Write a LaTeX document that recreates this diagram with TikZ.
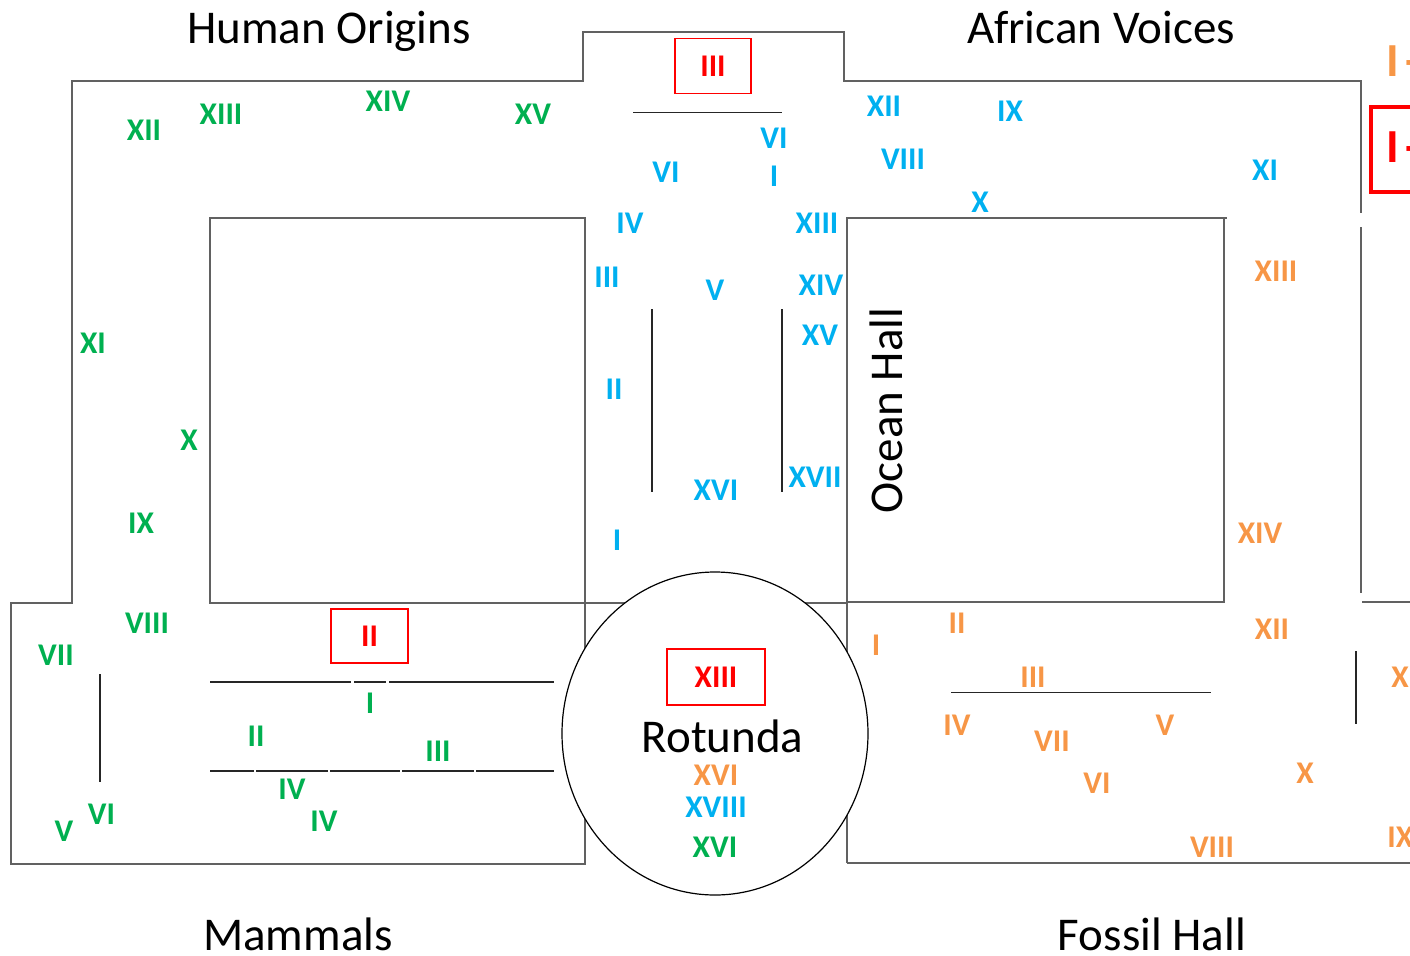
\documentclass[tikz,border=0pt]{standalone}
\usepackage{fontspec}
\setmainfont{Carlito}
\usetikzlibrary{shapes.geometric}
\definecolor{grn}{HTML}{00B050}
\definecolor{blu}{HTML}{00B0F0}
\definecolor{org}{HTML}{F79646}
\definecolor{rd}{HTML}{FF0000}
\begin{document}
\begin{tikzpicture}[x=0.5pt,y=-0.5pt,
  wall/.style={draw=black!62, line width=0.95pt},
  inwall/.style={draw=black!85, line width=0.75pt},
  lab/.style={inner sep=0pt, font=\fontsize{15.8}{18}\selectfont\bfseries},
  biglab/.style={inner sep=0pt, font=\fontsize{23.7}{28}\selectfont\bfseries},
  g/.style={lab,text=grn}, b/.style={lab,text=blu}, o/.style={lab,text=org}, r/.style={lab,text=rd},
  title/.style={inner sep=0pt, anchor=base, font=\fontsize{23.5}{28}\selectfont},
  rbox/.style={r, draw=rd, line width=0.75pt}]
\useasboundingbox (0,0) rectangle (1410,955);
\clip (0,0) rectangle (1410,955);
% walls
\draw[wall] (72,219) -- (72,81) -- (583,81) -- (583,32) -- (844,32) -- (844,81) -- (1361,81) -- (1361,213);
\draw[wall] (1361,227) -- (1361,593);
\draw[wall] (1362,602) -- (1415,602);
\draw[wall] (72,219) -- (72,603) -- (11,603) -- (11,864) -- (585,864) -- (585,218) -- (210,218) -- (210,603) -- (848,603);
\draw[wall] (847,863) -- (847,218) -- (1227,218);
\draw[wall] (1224,218) -- (1224,602) -- (847,602);
\draw[wall] (847,863) -- (1415,863);
% interior partitions
\draw[inwall] (633,112.5) -- (782,112.5);
\draw[inwall] (652,309) -- (652,492);
\draw[inwall] (782,309) -- (782,492);
\draw[inwall] (210,682) -- (351,682);
\draw[inwall] (354,682) -- (386,682);
\draw[inwall] (389,682) -- (554,682);
\draw[inwall] (210,771) -- (254,771);
\draw[inwall] (256,771) -- (328,771);
\draw[inwall] (330,771) -- (400,771);
\draw[inwall] (402,771) -- (474,771);
\draw[inwall] (476,771) -- (554,771);
\draw[inwall] (100,674) -- (100,782);
\draw[inwall] (951,692.5) -- (1211,692.5);
\draw[inwall] (1356,651) -- (1356,724);
% rotunda
\node[draw=black, fill=white, line width=0.6pt, ellipse, minimum width=153pt, minimum height=161.5pt, inner sep=0pt] (rotunda) at (715,733.5) {};
% titles
\node[title] (thuman) at (329,43) {Human Origins};
\node[title] (tafrica) at (1101,43) {African Voices};
\node[title] (tmam) at (298,950) {Mammals};
\node[title] (tfossil) at (1152,950) {Fossil Hall};
\node[title] (trot) at (722.5,752) {Rotunda};
\node[title, rotate=90] (tocean) at (902,410.5) {Ocean Hall};
% red boxes
\node[rbox, minimum width=38pt, minimum height=27.5pt] (boxIII) at (713,66) {III};
\node[rbox, minimum width=38.5pt, minimum height=27pt] (boxII) at (369.5,636) {II};
\node[rbox, minimum width=49pt, minimum height=28pt] (boxXIII) at (716,677) {XIII};
\draw[draw=rd, line width=2pt] (1371,107) rectangle (1440,192);
\node[biglab, text=rd, anchor=west] (rI) at (1386,147) {I\kern-2.2pt\ -};
\node[biglab, text=org, anchor=west] (oI) at (1386,61) {I\kern-2.2pt\ -};
% green labels
\node[g] (g12) at (144,130) {XII};
\node[g] (g13) at (221,114) {XIII};
\node[g] (g14) at (388,101) {XIV};
\node[g] (g15) at (533,114) {XV};
\node[g] (g11) at (93,343) {XI};
\node[g] (g10) at (189,440) {X};
\node[g] (g9) at (141,523) {IX};
\node[g] (g8) at (147,623) {VIII};
\node[g] (g7) at (56,655) {VII};
\node[g] (g1) at (370,703) {I};
\node[g] (g2) at (256,736) {II};
\node[g] (g3) at (438,751.5) {III};
\node[g] (g4a) at (292,789) {IV};
\node[g] (g4b) at (324,821) {IV};
\node[g] (g6) at (101.5,814) {VI};
\node[g] (g5) at (64,831) {V};
\node[g] (g16) at (715,847) {XVI};
% blue labels
\node[b] (b6a) at (774,138) {VI};
\node[b] (b6b) at (666,172) {VI};
\node[b] (b1a) at (774,176) {I};
\node[b] (b4) at (630,223) {IV};
\node[b] (b13) at (817,223) {XIII};
\node[b] (b3) at (607,277) {III};
\node[b] (b5) at (715,290) {V};
\node[b] (b14) at (821,285) {XIV};
\node[b] (b15) at (820,335) {XV};
\node[b] (b2) at (614,389) {II};
\node[b] (b16) at (716,490) {XVI};
\node[b] (b17) at (815,477) {XVII};
\node[b] (b1b) at (617,540) {I};
\node[b] (b12) at (884,106) {XII};
\node[b] (b9) at (1010,111) {IX};
\node[b] (b8) at (903,159) {VIII};
\node[b] (b10) at (980,202) {X};
\node[b] (b11) at (1265,170) {XI};
\node[b] (b18) at (716,807) {XVIII};
% orange labels
\node[o] (o13) at (1276,271) {XIII};
\node[o] (o14) at (1260,533) {XIV};
\node[o] (o12) at (1272,629) {XII};
\node[o] (o2) at (957,623) {II};
\node[o] (o1) at (876,645) {I};
\node[o] (o3) at (1033,677) {III};
\node[o] (o4) at (957,725) {IV};
\node[o] (o7) at (1052,741) {VII};
\node[o] (o5) at (1165,725) {V};
\node[o] (o6) at (1097,783) {VI};
\node[o] (o10) at (1305,773) {X};
\node[o] (o8) at (1212,847) {VIII};
\node[o, anchor=west] (o11) at (1391,677) {X};
\node[o, anchor=west] (o9) at (1387,837) {IX};
\node[o] (o16) at (716,775) {XVI};
\end{tikzpicture}
\end{document}
